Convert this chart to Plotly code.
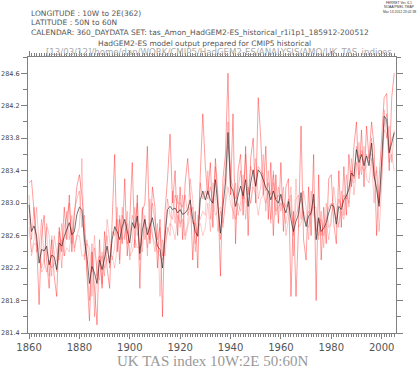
import plotly.graph_objects as go

years = list(range(1860, 2006))

ens_mean = [
    282.98, 282.65, 282.72, 282.60, 282.26, 282.43, 282.41, 282.47, 282.24, 282.36,
    282.34, 282.18, 282.51, 282.47, 282.59, 282.69, 282.76, 282.61, 282.65, 282.86,
    282.95, 282.92, 282.55, 282.34, 282.01, 282.22, 282.14, 282.01, 282.30, 282.18,
    282.34, 282.47, 282.26, 282.55, 282.71, 282.65, 282.55, 282.71, 282.80, 282.63,
    282.51, 282.76, 282.69, 282.84, 282.38, 282.67, 282.80, 282.61, 282.71, 282.82,
    282.65, 282.47, 282.43, 282.20, 282.59, 282.92, 282.96, 282.92, 282.94, 282.88,
    282.92, 282.86, 282.88, 282.92, 283.04, 282.80, 282.65, 282.59, 283.04, 283.15,
    283.04, 283.15, 283.04, 283.00, 283.29, 282.92, 282.63, 282.96, 283.25, 283.87,
    283.21, 283.15, 282.96, 283.09, 283.21, 283.09, 283.29, 282.96, 283.25, 283.41,
    283.21, 283.41, 283.37, 283.29, 283.19, 283.15, 283.04, 283.15, 283.04, 283.00,
    283.11, 282.96, 282.88, 283.02, 282.80, 282.65, 282.78, 282.86, 283.13, 282.86,
    282.71, 282.84, 282.88, 283.11, 282.55, 282.82, 282.65, 282.69, 282.76, 282.88,
    282.98, 282.96, 282.74, 282.96, 282.92, 283.04, 283.09, 283.17, 283.37, 283.33,
    283.66, 283.50, 283.60, 283.46, 283.58, 283.46, 283.74, 283.33, 283.17, 282.96,
    283.46, 284.07, 284.03, 283.62, 283.74, 283.87,
]

member_a = [
    283.25, 283.28, 282.90, 282.55, 281.75, 282.60, 282.85, 282.30, 281.95, 282.55,
    282.10, 281.85, 282.70, 282.40, 282.95, 282.55, 283.10, 282.40, 282.85, 283.20,
    283.35, 283.10, 282.70, 282.10, 281.55, 282.40, 281.90, 281.50, 282.55, 281.95,
    282.65, 282.20, 281.95, 282.90, 283.60, 282.40, 282.80, 282.50, 283.30, 282.35,
    282.80, 283.50, 282.45, 283.10, 281.95, 282.90, 283.00, 283.70, 282.50, 283.20,
    282.95, 282.20, 282.80, 281.60, 282.90, 283.30, 283.85, 283.00, 283.40, 282.60,
    283.20, 282.55, 283.25, 283.55, 283.10, 282.30, 282.90, 282.20, 283.35, 284.10,
    283.45, 283.10, 283.50, 282.70, 283.55, 283.10, 282.10, 283.30, 283.60, 284.60,
    283.10, 284.10, 282.50, 283.40, 283.60, 282.85, 283.70, 282.60, 283.55, 283.80,
    283.00, 284.30, 283.80, 283.10, 283.70, 282.80, 283.50, 282.60, 283.35, 282.75,
    283.50, 282.65, 283.20, 283.30, 281.85, 282.90, 281.85, 282.70, 283.95, 282.55,
    282.30, 283.20, 282.60, 283.60, 281.80, 283.35, 282.30, 282.95, 282.50, 283.30,
    283.35, 282.75, 282.50, 283.40, 282.70, 283.45, 282.85, 283.60, 283.20, 283.70,
    284.00, 283.30, 283.90, 283.20, 283.95, 283.55, 284.00, 283.70, 282.60, 283.30,
    283.80, 284.30, 284.35, 283.40, 284.30, 284.60,
]

member_b = [
    282.70, 282.40, 282.55, 282.95, 282.50, 282.15, 282.20, 282.75, 282.60, 282.10,
    282.60, 282.40, 282.30, 282.75, 282.35, 282.90, 282.55, 282.85, 282.40, 282.60,
    282.70, 283.55, 282.30, 282.55, 282.25, 281.85, 282.45, 282.20, 282.05, 282.40,
    282.10, 282.80, 282.55, 282.30, 282.45, 282.95, 282.30, 282.95, 282.55, 282.90,
    282.30, 282.55, 282.95, 282.60, 282.75, 282.40, 282.85, 282.35, 283.05, 282.60,
    282.40, 282.75, 281.85, 282.55, 282.35, 282.70, 282.60, 283.15, 282.75, 283.10,
    282.70, 283.10, 282.60, 282.75, 283.30, 283.05, 282.40, 282.85, 282.80, 282.90,
    282.85, 283.40, 282.80, 283.25, 283.10, 282.65, 282.90, 282.70, 283.05, 283.70,
    283.45, 282.80, 283.25, 282.85, 283.00, 283.35, 282.80, 283.20, 283.00, 283.30,
    283.55, 283.05, 283.20, 283.60, 282.90, 283.40, 282.75, 283.40, 282.85, 283.20,
    282.90, 283.20, 282.60, 282.80, 283.10, 282.35, 283.05, 283.10, 282.80, 283.15,
    282.95, 282.55, 283.15, 282.85, 282.80, 282.55, 282.90, 282.45, 283.00, 282.70,
    282.75, 283.20, 282.95, 282.70, 283.15, 282.85, 283.35, 282.95, 283.55, 283.10,
    283.40, 283.75, 283.35, 283.70, 283.30, 283.25, 283.55, 283.00, 283.45, 282.65,
    283.20, 284.15, 283.80, 283.95, 283.50, 283.90,
]

member_c = [
    283.10, 282.55, 282.95, 282.40, 282.45, 282.80, 282.30, 282.15, 282.30, 282.20,
    282.25, 282.30, 282.65, 282.20, 282.70, 282.85, 283.00, 282.50, 282.90, 283.05,
    283.15, 282.70, 282.85, 282.20, 281.80, 282.50, 281.60, 282.25, 282.35, 282.00,
    282.40, 282.60, 282.20, 282.65, 282.60, 282.80, 282.25, 282.85, 282.75, 282.50,
    282.60, 282.85, 282.70, 283.00, 282.30, 282.95, 282.55, 282.70, 282.55, 283.00,
    282.75, 282.55, 282.70, 282.35, 282.60, 283.05, 282.85, 282.80, 283.10, 283.00,
    283.00, 282.95, 283.10, 282.85, 282.95, 282.75, 282.75, 282.60, 283.25, 283.05,
    283.15, 283.05, 283.20, 283.00, 283.45, 283.05, 282.55, 283.10, 283.40, 284.00,
    283.30, 283.20, 283.05, 283.15, 283.40, 283.05, 283.60, 283.10, 283.45, 283.35,
    283.20, 283.45, 283.40, 283.35, 283.15, 283.25, 283.10, 283.35, 283.05, 283.10,
    283.05, 283.00, 282.95, 283.05, 282.90, 282.75, 282.85, 282.95, 283.05, 282.80,
    282.75, 282.90, 282.85, 283.05, 282.65, 282.80, 282.60, 282.75, 282.80, 282.95,
    283.00, 282.95, 282.80, 283.05, 282.95, 283.10, 283.05, 283.20, 283.40, 283.30,
    283.70, 283.55, 283.65, 283.50, 283.60, 283.50, 283.80, 283.35, 283.20, 283.00,
    283.55, 283.95, 284.10, 283.65, 283.80, 283.85,
]

member_d = [
    282.85, 282.35, 282.50, 282.50, 282.35, 282.20, 282.30, 282.70, 282.10, 282.60,
    282.40, 282.15, 282.40, 282.55, 282.35, 282.45, 282.40, 282.70, 282.45, 282.60,
    282.60, 282.35, 282.35, 282.50, 282.45, 282.15, 282.60, 282.10, 282.25, 282.35,
    282.20, 282.30, 282.35, 282.35, 282.20, 282.45, 282.85, 282.55, 282.60, 282.75,
    282.35, 282.40, 282.55, 282.45, 282.45, 282.50, 282.80, 282.45, 282.75, 282.60,
    282.50, 282.40, 282.35, 282.30, 282.50, 282.65, 282.75, 282.70, 282.55, 282.85,
    282.75, 282.80, 282.55, 282.70, 282.85, 282.95, 282.50, 282.70, 282.75, 282.60,
    282.70, 283.00, 282.65, 283.05, 282.85, 282.90, 282.95, 282.75, 282.95, 283.20,
    283.00, 282.90, 282.80, 283.00, 282.90, 283.10, 283.05, 282.95, 283.00, 283.20,
    283.10, 282.85, 283.05, 283.10, 283.00, 283.15, 282.80, 283.25, 282.90, 282.95,
    283.00, 282.90, 282.75, 282.95, 283.20, 282.60, 283.30, 282.70, 282.75, 282.90,
    282.80, 282.70, 282.90, 282.95, 282.95, 282.60, 282.80, 282.60, 282.75, 282.55,
    282.85, 283.00, 282.70, 282.75, 282.90, 282.80, 283.10, 283.00, 283.30, 283.25,
    283.50, 283.35, 283.45, 283.40, 283.45, 283.60, 283.60, 283.30, 283.40, 283.00,
    283.30, 283.90, 283.85, 283.50, 283.60, 283.40,
]

members = [member_a, member_b, member_c, member_d]
member_alpha = [0.38, 0.22, 0.26, 0.2]

x_tick_vals = [1860, 1880, 1900, 1920, 1940, 1960, 1980, 2000]
x_tick_text = ["1860", "1880", "1900", "1920", "1940", "1960", "1980", "2000"]
y_tick_vals = [281.4, 281.8, 282.2, 282.6, 283.0, 283.4, 283.8, 284.2, 284.6]
y_tick_text = ["281.4", "281.8", "282.2", "282.6", "283.0", "283.4", "283.8", "284.2", "284.6"]

fig = go.Figure()
for m, a in zip(members, member_alpha):
    fig.add_trace(go.Scatter(x=years, y=m, mode="lines",
                             line=dict(color=f"rgba(255,0,0,{a})", width=1),
                             showlegend=False, hoverinfo="skip"))
fig.add_trace(go.Scatter(x=years, y=ens_mean, mode="lines",
                         line=dict(color="rgba(30,30,30,0.7)", width=0.9),
                         showlegend=False))

axis_col = "#808080"
fig.update_xaxes(range=[1859.6, 2005.7], tickvals=x_tick_vals, ticktext=x_tick_text,
                 ticks="outside", ticklen=5, tickcolor=axis_col, tickwidth=1,
                 showline=True, linecolor=axis_col, linewidth=1, mirror="allticks",
                 showgrid=False, zeroline=False, automargin=False,
                 tickfont=dict(family="DejaVu Sans", size=10, color="#555555"),
                 minor=dict(dtick=1, tick0=1860, ticks="outside", ticklen=3,
                            tickcolor=axis_col, showgrid=False))
fig.update_yaxes(range=[281.4, 284.8], tickvals=y_tick_vals, ticktext=y_tick_text,
                 ticks="outside", ticklen=6, tickcolor=axis_col, tickwidth=1,
                 showline=True, linecolor=axis_col, linewidth=1, mirror="allticks",
                 showgrid=False, zeroline=False, automargin=False,
                 tickfont=dict(family="DejaVu Sans", size=6.5, color="#444444"),
                 minor=dict(dtick=0.2, tick0=281.4, ticks="outside", ticklen=4,
                            tickcolor=axis_col, showgrid=False))

H = 276.0
W = 368.0
def py(pix):
    return (333 - pix) / H
def px(pix):
    return (pix - 28) / W

ann = []
hdr = dict(family="DejaVu Sans", size=7.5, color="#555555")
ann.append(dict(text="LONGITUDE : 10W to 2E(362)", x=px(29), y=py(14), xanchor="left", yanchor="middle", font=hdr))
ann.append(dict(text="LATITUDE : 50N to 60N", x=px(29), y=py(23), xanchor="left", yanchor="middle", font=hdr))
ann.append(dict(text="CALENDAR: 360_DAYDATA SET: tas_Amon_HadGEM2-ES_historical_r1i1p1_185912-200512",
                x=px(29), y=py(32), xanchor="left", yanchor="middle", font=hdr))
ann.append(dict(text="HadGEM2-ES model output prepared for CMIP5 historical",
                x=px(204), y=py(43), xanchor="center", yanchor="middle", font=hdr))
ann.append(dict(text="[13/03/12]/home/dan/WORK/CMIP5/HadGEM2-ES/ANALYSIS/AMO/UK_TAS_indices",
                x=px(219), y=py(52), xanchor="center", yanchor="middle",
                font=dict(family="DejaVu Sans", size=8.6, color="#aaaaaa")))
stamp = dict(family="Liberation Sans", size=3.4, color="#333333")
for t, yy in [("FERRET Ver. 6.1", 3.5), ("NOAA/PMEL TMAP", 7.5), ("Mar 13 2012 23:02:38", 11.5)]:
    ann.append(dict(text=t, x=px(399), y=py(yy), xanchor="center", yanchor="middle", font=stamp))
ann.append(dict(text="UK TAS index 10W:2E 50:60N", x=px(212), y=py(361), xanchor="center", yanchor="middle",
                font=dict(family="Liberation Serif", size=15, color="#999999")))
for a in ann:
    a.update(xref="paper", yref="paper", showarrow=False)

fig.update_layout(width=418, height=374, margin=dict(l=28, r=22, t=57, b=41, autoexpand=False),
                  paper_bgcolor="white", plot_bgcolor="white", annotations=ann,
                  showlegend=False)

fig.write_html("out.html", config={"displayModeBar": False},
               post_script="document.body.style.margin='0';document.body.style.overflow='hidden';")
